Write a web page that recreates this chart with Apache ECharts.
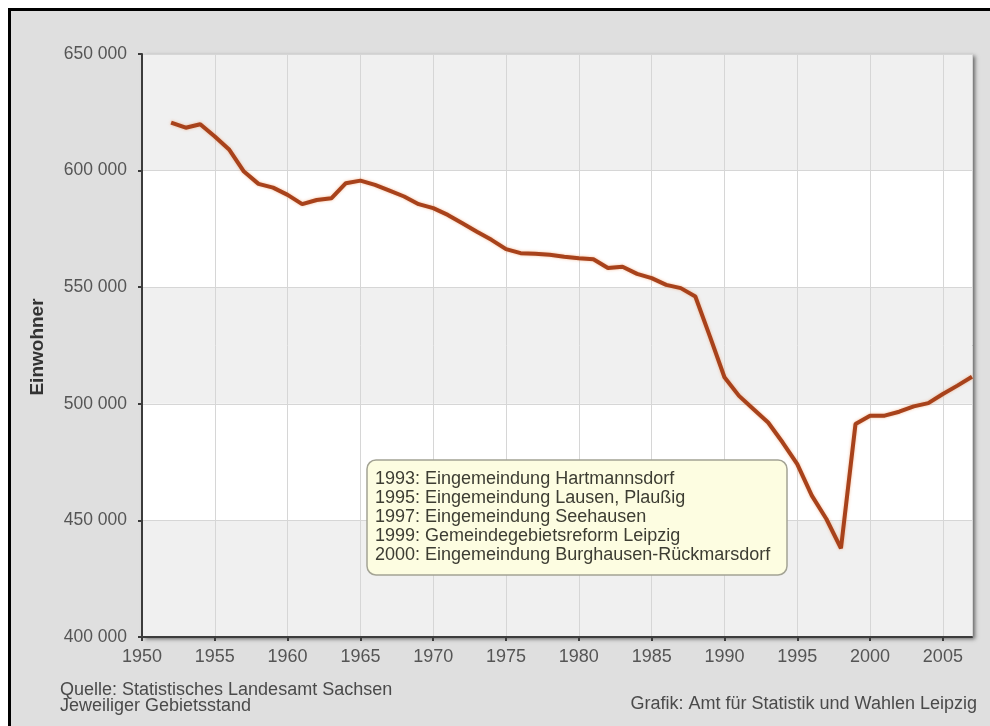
<!DOCTYPE html>
<html>
<head>
<meta charset="utf-8">
<script src="https://cdn.jsdelivr.net/npm/echarts@6/dist/echarts.min.js"></script>
<style>
  html, body { margin: 0; padding: 0; background: #ffffff; }
  #wrap { position: relative; width: 990px; height: 726px; overflow: hidden; background: #ffffff; }
  #frame { position: absolute; left: 8px; top: 8px; width: 1100px; height: 1000px; border-left: 3px solid #000; border-top: 3px solid #000; background: #dfdfdf; }
  #chart { position: absolute; left: 0; top: 0; width: 990px; height: 726px; }
</style>
</head>
<body>
<div id="wrap">
  <div id="frame"></div>
  <div id="chart"></div>
</div>
<script>
// Data
const years = [1952,1953,1954,1955,1956,1957,1958,1959,1960,1961,1962,1963,1964,1965,1966,1967,1968,1969,1970,1971,1972,1973,1974,1975,1976,1977,1978,1979,1980,1981,1982,1983,1984,1985,1986,1987,1988,1989,1990,1991,1992,1993,1994,1995,1996,1997,1998,1999,2000,2001,2002,2003,2004,2005,2006,2007];
const population = [620600,618400,619900,614600,608900,599600,594300,592700,589600,585600,587400,588100,594600,595700,593900,591400,588900,585600,583900,581000,577400,573800,570300,566300,564600,564300,563900,563100,562400,562000,558200,558800,555700,553900,551000,549600,546000,528900,511400,503400,497700,492000,483400,474100,460600,450600,438000,491300,494900,494900,496600,498900,500300,504200,507800,511600];
const yAxisName = 'Einwohner';
const noteLines = [
  '1993: Eingemeindung Hartmannsdorf',
  '1995: Eingemeindung Lausen, Plaußig',
  '1997: Eingemeindung Seehausen',
  '1999: Gemeindegebietsreform Leipzig',
  '2000: Eingemeindung Burghausen-Rückmarsdorf'
];
const sourceLines = ['Quelle: Statistisches Landesamt Sachsen', 'Jeweiliger Gebietsstand'];
const creditText = 'Grafik: Amt für Statistik und Wahlen Leipzig';

const seriesData = years.map((y, i) => [y, population[i]]);
const font = '"Liberation Sans", Arial, sans-serif';

const chart = echarts.init(document.getElementById('chart'));
chart.setOption({
  backgroundColor: 'transparent',
  animation: false,
  grid: {
    left: 142, right: 18, top: 54, bottom: 89,
    show: true,
    backgroundColor: '#ffffff',
    borderWidth: 0,
    shadowColor: 'rgba(0,0,0,0.55)',
    shadowBlur: 4,
    shadowOffsetX: 3,
    shadowOffsetY: 2
  },
  xAxis: {
    type: 'value',
    min: 1950, max: 2007, interval: 5,
    axisLine: { show: true, lineStyle: { color: '#3c3c3c', width: 2 } },
    axisTick: { show: true, length: 4, lineStyle: { color: '#3c3c3c', width: 2 } },
    axisLabel: { color: '#555', fontSize: 18, fontFamily: font, margin: 11, showMaxLabel: false, formatter: v => String(v) },
    splitLine: { show: true, lineStyle: { color: '#d6d6d6', width: 1 } }
  },
  yAxis: {
    type: 'value',
    min: 400000, max: 650000, interval: 50000,
    axisLine: { show: true, lineStyle: { color: '#3c3c3c', width: 2 } },
    axisTick: { show: true, length: 4, lineStyle: { color: '#3c3c3c', width: 2 } },
    axisLabel: {
      color: '#555', fontSize: 17.5, fontFamily: font, margin: 15,
      formatter: v => String(v).replace(/\B(?=(\d{3})+(?!\d))/g, ' ')
    },
    splitLine: { show: true, lineStyle: { color: '#d6d6d6', width: 1 } },
    splitArea: { show: true, areaStyle: { color: ['#f0f0f0', '#ffffff'] } }
  },
  series: [{
    type: 'line',
    data: seriesData,
    showSymbol: false,
    symbol: 'none',
    smooth: false,
    lineStyle: { color: '#a8421b', width: 4, shadowColor: 'rgba(235,140,80,0.6)', shadowBlur: 3 },
    z: 5
  }],
  graphic: {
    elements: [
      {
        type: 'text', x: 38, y: 347, rotation: Math.PI / 2,
        style: { text: yAxisName, font: 'bold 19px ' + font, fill: '#333', align: 'center', verticalAlign: 'middle' }
      },
      {
        type: 'rect', z: 50,
        shape: { x: 367, y: 460, width: 420, height: 115, r: 9 },
        style: { fill: '#fdfde1', stroke: '#a3a394', lineWidth: 1.5 }
      },
      {
        type: 'text', z: 51, x: 375, y: 470,
        style: { text: noteLines.join('\n'), font: '18px ' + font, lineHeight: 19, fill: '#3d3d33', align: 'left', verticalAlign: 'top' }
      },
      {
        type: 'text', x: 60, y: 682,
        style: { text: sourceLines.join('\n'), font: '18px ' + font, lineHeight: 16, fill: '#4a4a4a', align: 'left', verticalAlign: 'top' }
      },
      {
        type: 'text', x: 977, y: 704,
        style: { text: creditText, font: '18px ' + font, fill: '#4a4a4a', align: 'right', verticalAlign: 'middle' }
      }
    ]
  }
});
</script>
</body>
</html>
